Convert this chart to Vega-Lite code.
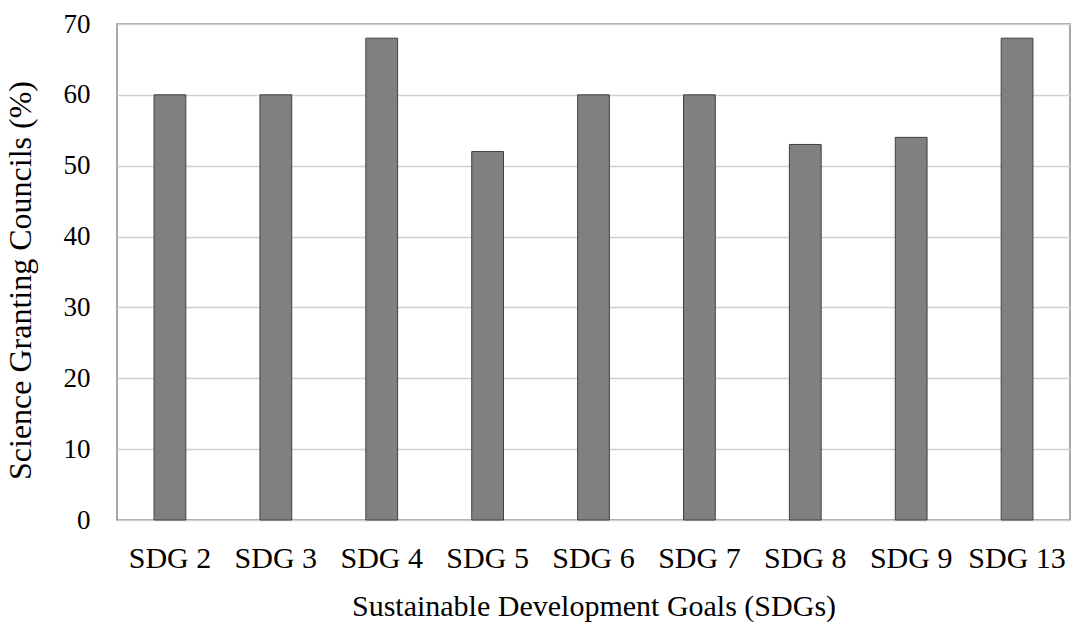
{
  "$schema": "https://vega.github.io/schema/vega-lite/v6.json",
  "autosize": {"type": "none"},
  "padding": {"left": 117, "top": 24, "right": 14, "bottom": 114},
  "width": 953,
  "height": 496,
  "background": "white",
  "config": {
    "font": "Liberation Serif",
    "view": {"stroke": "#8c8c8c", "strokeWidth": 1.5}
  },
  "data": {
    "values": [
      {"goal": "SDG 2", "pct": 60},
      {"goal": "SDG 3", "pct": 60},
      {"goal": "SDG 4", "pct": 68},
      {"goal": "SDG 5", "pct": 52},
      {"goal": "SDG 6", "pct": 60},
      {"goal": "SDG 7", "pct": 60},
      {"goal": "SDG 8", "pct": 53},
      {"goal": "SDG 9", "pct": 54},
      {"goal": "SDG 13", "pct": 68}
    ]
  },
  "mark": {"type": "bar", "color": "#808080", "stroke": "#404040", "strokeWidth": 1},
  "encoding": {
    "x": {
      "field": "goal",
      "type": "nominal",
      "sort": null,
      "scale": {"paddingInner": 0.7, "paddingOuter": 0.35},
      "title": "Sustainable Development Goals (SDGs)",
      "axis": {
        "labelAngle": 0,
        "labelFont": "Liberation Serif",
        "labelFontSize": 30,
        "labelColor": "black",
        "labelPadding": 23,
        "ticks": false,
        "domain": false,
        "titleFont": "Liberation Serif",
        "titleFontSize": 30,
        "titleFontWeight": "normal",
        "titleColor": "black",
        "titlePadding": 18
      }
    },
    "y": {
      "field": "pct",
      "type": "quantitative",
      "scale": {"domain": [0, 70]},
      "title": "Science Granting Councils (%)",
      "axis": {
        "values": [0, 10, 20, 30, 40, 50, 60, 70],
        "labelFont": "Liberation Serif",
        "labelFontSize": 27,
        "labelColor": "black",
        "labelPadding": 27,
        "ticks": false,
        "domain": false,
        "gridColor": "#d0d0d0",
        "gridWidth": 1.5,
        "titleFont": "Liberation Serif",
        "titleFontSize": 32,
        "titleFontWeight": "normal",
        "titleColor": "black",
        "titlePadding": 26,
        "titleY": 256
      }
    }
  }
}
